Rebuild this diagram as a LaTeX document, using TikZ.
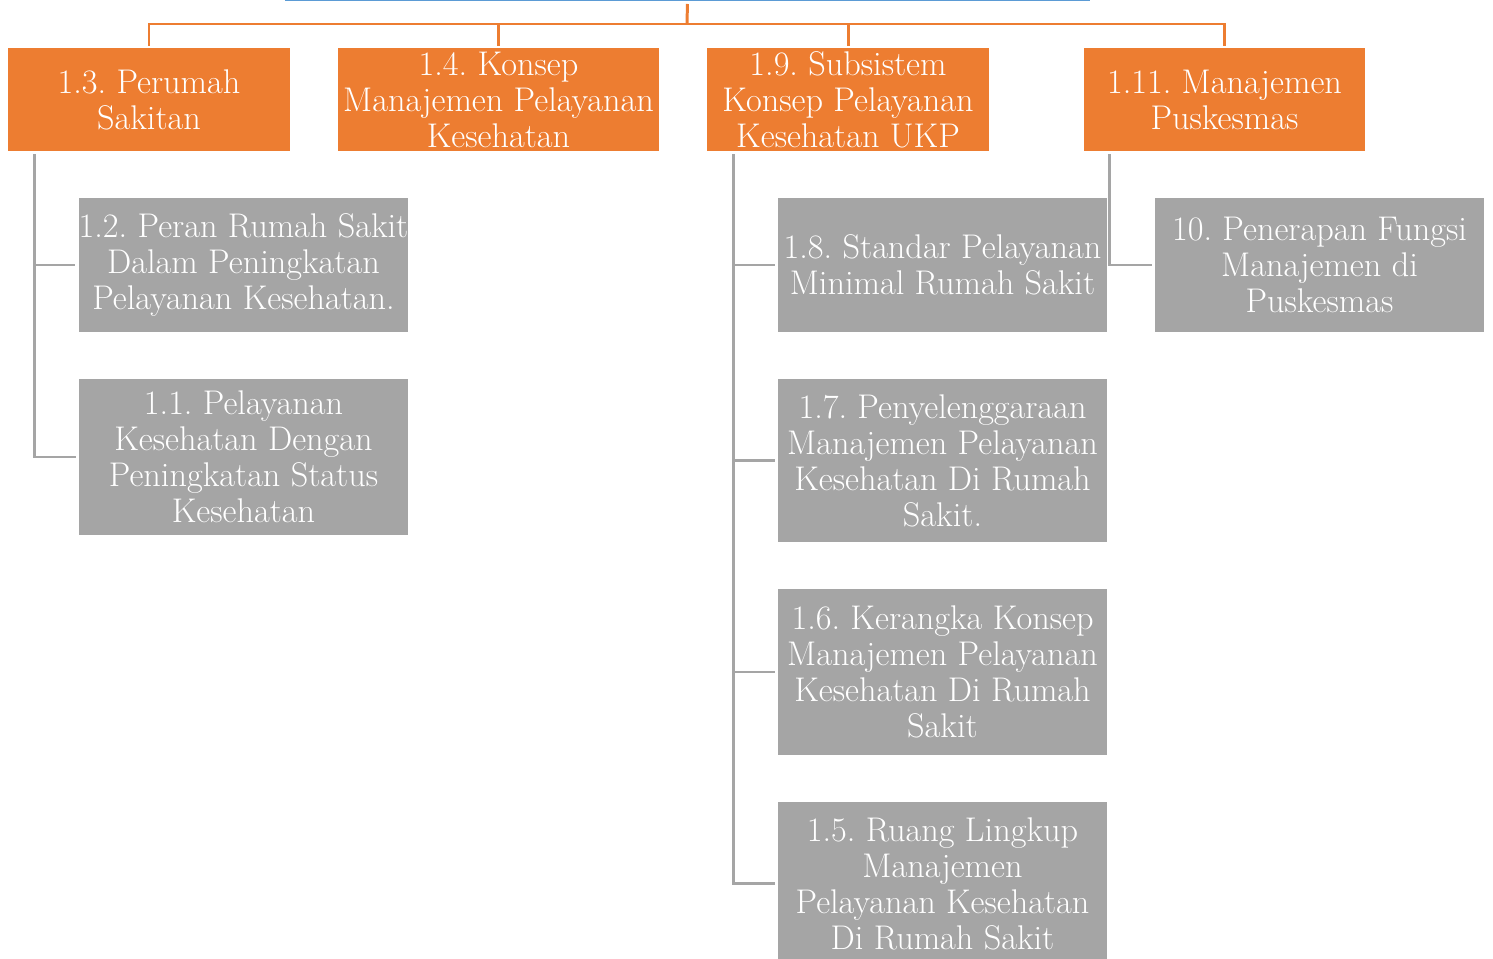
\documentclass[tikz,border=0pt]{standalone}
\usetikzlibrary{positioning}
\definecolor{accorange}{RGB}{237,125,49}
\definecolor{accgray}{RGB}{165,165,165}
\definecolor{accblue}{RGB}{91,155,213}
\frenchspacing

\begin{document}
\begin{tikzpicture}[x=0.02cm,y=-0.02cm,
  topic/.style={fill=accorange,text=white,align=center,inner sep=0pt,minimum width=5.64cm,minimum height=2.06cm,font=\fontsize{19.5}{20.5}\selectfont},
  sub/.style={fill=accgray,text=white,align=center,inner sep=0pt,minimum width=6.58cm,font=\fontsize{19.5}{20.5}\selectfont},
  bar/.style={draw=accorange,line width=1.7pt},
  branch/.style={draw=accgray,line width=1.7pt,shorten <=0.06cm,shorten >=0.06cm}]
\useasboundingbox (0,0) rectangle (1493,959);
\clip (0,0) rectangle (1493,959);

\node[fill=accblue,minimum width=16.1cm,minimum height=1cm,inner sep=0pt,anchor=south] (root) at (687.5,1.5) {};

\node[topic] (perumah) at (149,99.5) {1.3. Perumah\\Sakitan};
\node[topic,minimum width=6.42cm] (konsep) at (498.5,99.5) {1.4. Konsep\\Manajemen Pelayanan\\Kesehatan};
\node[topic] (subsistem) at (848,99.5) {1.9. Subsistem\\Konsep Pelayanan\\Kesehatan UKP};
\node[topic,minimum width=5.62cm] (puskesmas) at (1224.5,99.5) {1.11. Manajemen\\Puskesmas};

\node[sub,minimum height=2.68cm] (peran) at (243.5,265) {1.2. Peran Rumah Sakit\\Dalam Peningkatan\\Pelayanan Kesehatan.};
\node[sub,minimum height=3.12cm] (status) at (243.5,457) {1.1. Pelayanan\\Kesehatan Dengan\\Peningkatan Status\\Kesehatan};

\node[sub,minimum height=2.68cm] (standar) at (942.5,265) {1.8. Standar Pelayanan\\Minimal Rumah Sakit};
\node[sub,minimum height=3.26cm] (penyelenggaraan) at (942.5,460.5) {1.7. Penyelenggaraan\\Manajemen Pelayanan\\Kesehatan Di Rumah\\Sakit.};
\node[sub,minimum height=3.32cm] (kerangka) at (942.5,672) {1.6. Kerangka Konsep\\Manajemen Pelayanan\\Kesehatan Di Rumah\\Sakit};
\node[sub,minimum height=3.26cm] (ruang) at (942.5,883.5) {1.5. Ruang Lingkup\\Manajemen\\Pelayanan Kesehatan\\Di Rumah Sakit};

\node[sub,minimum height=2.68cm] (fungsi) at (1319.5,265) {10. Penerapan Fungsi\\Manajemen di\\Puskesmas};

\coordinate (bus) at (687,24);
\draw[bar,shorten <=0.05cm] (root.south) -- (bus);
\draw[bar,shorten >=0.04cm] (bus) -| (perumah.north);
\draw[bar,shorten >=0.04cm] (bus) -| (konsep.north);
\draw[bar,shorten >=0.04cm] (bus) -| (subsistem.north);
\draw[bar,shorten >=0.04cm] (bus) -| (puskesmas.north);

\draw[branch] ([xshift=0.54cm]perumah.south west) |- (peran.west);
\draw[branch] ([xshift=0.54cm]perumah.south west) |- (status.west);
\draw[branch] ([xshift=0.54cm]subsistem.south west) |- (standar.west);
\draw[branch] ([xshift=0.54cm]subsistem.south west) |- (penyelenggaraan.west);
\draw[branch] ([xshift=0.54cm]subsistem.south west) |- (kerangka.west);
\draw[branch] ([xshift=0.54cm]subsistem.south west) |- (ruang.west);
\draw[branch] ([xshift=0.52cm]puskesmas.south west) |- (fungsi.west);
\end{tikzpicture}
\end{document}
